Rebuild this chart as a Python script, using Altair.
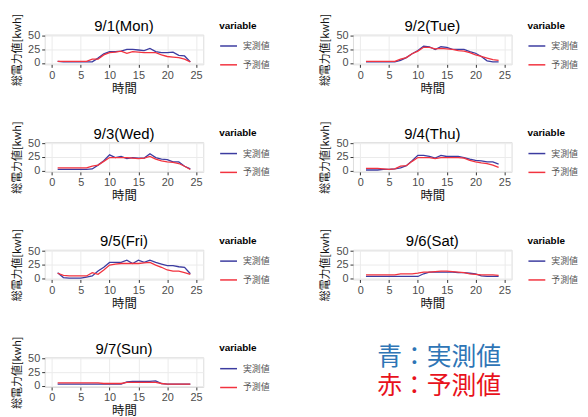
import altair as alt
import pandas as pd

# ---- data ----
hours = list(range(1, 25))
days = ["9/1(Mon)", "9/2(Tue)", "9/3(Wed)", "9/4(Thu)", "9/5(Fri)", "9/6(Sat)", "9/7(Sun)"]
series_names = ["実測値", "予測値"]

mon_actual = [3, 2, 2, 2, 2, 2, 2, 9, 17, 21, 21, 22, 25, 25, 24, 23, 27, 21, 19, 19, 20, 14, 13, 2]
mon_pred = [3, 3, 3, 3, 3, 3, 7, 7, 15, 19, 20, 22, 18, 21, 20, 19, 19, 19, 15, 12, 11, 10, 7, 2]
tue_actual = [2, 2, 2, 2, 2, 2, 5, 10, 17, 23, 31, 30, 25, 30, 29, 25, 25, 25, 21, 18, 12, 4, 2, 2]
tue_pred = [3, 3, 3, 3, 3, 3, 7, 10, 17, 22, 29, 29, 26, 27, 26, 25, 23, 22, 19, 15, 12, 9, 6, 5]
wed_actual = [2, 2, 2, 2, 2, 2, 3, 10, 18, 29, 24, 26, 22, 24, 23, 23, 31, 24, 21, 20, 16, 16, 8, 3]
wed_pred = [5, 5, 5, 5, 5, 5, 8, 10, 17, 24, 24, 24, 24, 23, 22, 23, 26, 21, 18, 16, 15, 13, 8, 2]
thu_actual = [1, 1, 1, 2, 2, 3, 5, 9, 18, 28, 28, 26, 23, 28, 26, 26, 26, 24, 21, 19, 18, 16, 16, 12]
thu_pred = [4, 4, 4, 3, 2, 3, 8, 9, 17, 24, 24, 24, 22, 24, 24, 24, 24, 23, 19, 16, 14, 13, 10, 6]
fri_actual = [10, 1, 0, 0, 0, 2, 4, 13, 20, 29, 29, 29, 33, 27, 33, 29, 33, 29, 26, 23, 23, 21, 20, 8]
fri_pred = [9, 5, 4, 4, 4, 4, 10, 7, 15, 24, 26, 27, 27, 27, 27, 28, 29, 24, 20, 15, 13, 13, 10, 7]
sat_actual = [3, 3, 3, 3, 3, 3, 3, 3, 3, 3, 8, 11, 11, 11, 11, 11, 10, 10, 9, 8, 4, 3, 3, 3]
sat_pred = [6, 6, 6, 6, 6, 6, 8, 8, 8, 9, 11, 11, 12, 13, 13, 12, 11, 10, 8, 7, 6, 6, 6, 5]
sun_actual = [3, 3, 3, 3, 3, 3, 3, 3, 3, 3, 3, 3, 7, 8, 8, 8, 8, 9, 4, 3, 3, 3, 3, 3]
sun_pred = [5, 5, 5, 5, 5, 5, 5, 5, 4, 4, 4, 4, 6, 6, 6, 6, 6, 6, 4, 3, 3, 3, 3, 3]

actuals = [mon_actual, tue_actual, wed_actual, thu_actual, fri_actual, sat_actual, sun_actual]
preds = [mon_pred, tue_pred, wed_pred, thu_pred, fri_pred, sat_pred, sun_pred]

x_ticks = [0, 5, 10, 15, 20, 25]
y_ticks = [0, 25, 50]

note_texts = ["青：実測値", "赤：予測値"]
note_colors = ["#2E75B6", "#E8121C"]

BLUE = "#3C3CA0"
RED = "#F2333F"
JP = "Noto Sans CJK JP"
LAT = "Liberation Sans"


def panel(day, actual, pred):
    df = pd.DataFrame({
        "hour": hours * 2,
        "value": actual + pred,
        "variable": [series_names[0]] * len(hours) + [series_names[1]] * len(hours),
    })
    return (
        alt.Chart(df, title=alt.TitleParams(day, fontSize=15, font=LAT, fontWeight="normal",
                                            color="black", anchor="middle", frame="group", offset=-21))
        .mark_line(strokeWidth=1.3)
        .encode(
            x=alt.X("hour:Q",
                    scale=alt.Scale(domain=[-1.25, 26.25], nice=False, zero=False),
                    axis=alt.Axis(values=x_ticks, title="時間", titleFont=JP, titleFontSize=12.5,
                                  titleFontWeight="normal", titleColor="#111", titlePadding=2,
                                  labelFont=LAT, labelFontSize=11, labelColor="#4D4D4D",
                                  labelPadding=2, tickSize=3, tickColor="#333", domain=False,
                                  gridColor="#EBEBEB", labelFlush=False)),
            y=alt.Y("value:Q",
                    scale=alt.Scale(domain=[-2.5, 52.5], nice=False, zero=False),
                    axis=alt.Axis(values=y_ticks, title="総電力値[kwh]", titleFont=JP, titleFontSize=11,
                                  titleFontWeight="normal", titleColor="#111", titlePadding=5,
                                  labelFont=LAT, labelFontSize=11, labelColor="#4D4D4D",
                                  labelPadding=2, tickSize=3, tickColor="#333", domain=False,
                                  gridColor="#EBEBEB", labelFlush=False)),
            color=alt.Color("variable:N",
                            scale=alt.Scale(domain=series_names, range=[BLUE, RED]),
                            legend=alt.Legend(title="variable", orient="none", legendX=176, legendY=-14,
                                              titleFont=LAT, titleFontSize=10, titleFontWeight="bold",
                                              titleColor="black", titlePadding=6,
                                              labelFont=JP, labelFontSize=9, labelColor="#555",
                                              symbolType="stroke", symbolSize=289, symbolStrokeWidth=1.5,
                                              rowPadding=4, labelOffset=5)),
        )
        .properties(width=160, height=30)
    )


panels = [panel(d, a, p) for d, a, p in zip(days, actuals, preds)]

note_df = pd.DataFrame({"label": note_texts, "row": [0, 1], "color": note_colors})
note = (
    alt.Chart(note_df)
    .mark_text(fontSize=25, font=JP, dy=-19)
    .encode(
        y=alt.Y("row:O", axis=None, scale=alt.Scale(type="point", padding=0.655)),
        text="label:N",
        color=alt.Color("color:N", scale=None),
    )
    .properties(width=258, height=67, view=alt.ViewBackground(strokeOpacity=0))
)

rows = []
for i in range(0, 6, 2):
    rows.append(alt.hconcat(panels[i], panels[i + 1], spacing=48).resolve_scale(color="independent"))
rows.append(alt.hconcat(panels[6], note, spacing=40).resolve_scale(color="independent"))

chart = (
    alt.vconcat(*rows, spacing=24.5)
    .resolve_scale(color="independent")
    .properties(padding={"left": 3, "top": 2, "right": 0, "bottom": 0})
    .configure_view(stroke="#A6A6A6", strokeWidth=1)
    .configure(background="white")
)

chart.save("out.html", embed_options={"renderer": "svg", "actions": False})
